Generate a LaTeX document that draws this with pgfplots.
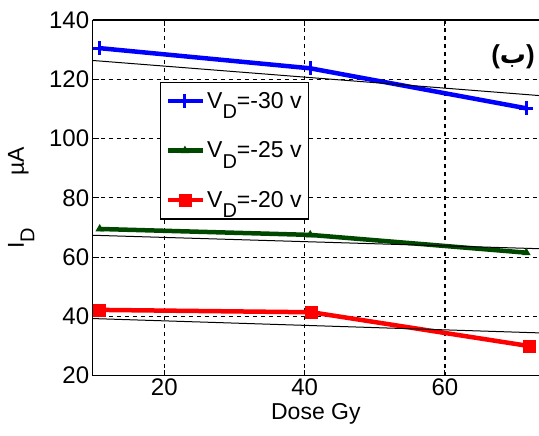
\documentclass[border=0pt]{standalone}
\usepackage{pgfplots}
\pgfplotsset{compat=1.18}
\usepackage{fontspec}
\setmainfont{Liberation Sans}
\newfontfamily\arabicfont[Script=Arabic]{DejaVu Sans}
\TeXXeTstate=1
\definecolor{mblue}{RGB}{0,0,255}
\definecolor{mgreen}{RGB}{0,72,0}
\definecolor{mred}{RGB}{255,0,0}
\newcommand{\sub}[1]{\raisebox{-0.45em}{\fontsize{20}{20}\selectfont #1}}

\begin{document}
\begin{tikzpicture}
\begin{axis}[
  scale only axis, width=446.3pt, height=355.7pt,
  xmin=9.8, xmax=73.4, ymin=20, ymax=140,
  enlargelimits=false,
  axis x line=box, axis y line=left,
  axis line style={-, line width=1.2pt},
  xtick={20,40,60}, ytick={20,40,...,140},
  tick align=inside, major tick length=6pt,
  tick style={black, line width=1pt},
  grid=major,
  major grid style={black, line width=1.1pt, dash pattern=on 4pt off 4pt},
  ticklabel style={font=\fontsize{24}{28}\selectfont},
  /pgf/number format/assume math mode=true,
  xlabel={Dose Gy},
  ylabel={I\sub{D}\hspace{52pt}µA},
  label style={font=\fontsize{23}{27}\selectfont},
  ylabel shift=8pt,
  legend style={at={(0.151,0.8265)}, anchor=north west, draw=black,
    line width=1.2pt, fill=white, font=\fontsize{23}{27}\selectfont,
    row sep=28pt, inner ysep=8pt, inner xsep=5pt},
  legend cell align=left,
  legend image code/.code={\draw[mark repeat=2,mark phase=2]
    plot coordinates {(0pt,0pt)(17pt,0pt)(35pt,0pt)};},
]
\addplot[mblue, line width=4.5pt, mark=+, mark size=7pt,
  mark options={line width=3pt}] coordinates {
  (10.8,130.5) (40.8,123.7) (71.6,110.2)};
\addlegendentry{V\sub{D}=-30 v\hspace{10pt}}
\addplot[mgreen, line width=4.5pt, mark=triangle*, mark size=4pt,
  mark options={line width=1pt}] coordinates {
  (10.8,69.5) (40.8,67.5) (71.6,61.5)};
\addlegendentry{ V\sub{D}=-25 v}
\addplot[mred, line width=4.5pt, mark=square*, mark size=6pt,
  mark options={line width=0.5pt}] coordinates {
  (10.8,42.2) (41,41.4) (72,30.0)};
\addlegendentry{V\sub{D}=-20 v}
% linear fits
\addplot[black, line width=1pt, forget plot] coordinates {(9.5,126.4) (74,114.4)};
\addplot[black, line width=1pt, forget plot] coordinates {(9.5,67.4) (74,62.8)};
\addplot[black, line width=1pt, forget plot] coordinates {(9.5,39.3) (74,34.4)};
\node[font=\fontsize{26}{30}\selectfont\bfseries] at (axis cs:69.7,127.5)
  {({\arabicfont\beginR ب\endR})};
\coordinate (sw) at (rel axis cs:0,0);
\coordinate (ne) at (rel axis cs:1,1);
\end{axis}
\pgfresetboundingbox
\path ([shift={(-92.7pt,-60.3pt)}]sw) rectangle ([shift={(0pt,20pt)}]ne);
\end{tikzpicture}
\end{document}
